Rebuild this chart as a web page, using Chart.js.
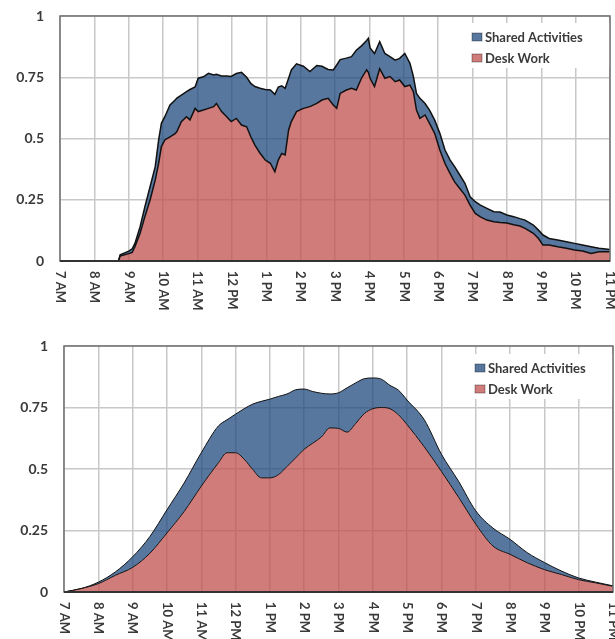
<!DOCTYPE html>
<html>
<head>
<meta charset="utf-8">
<script src="https://cdn.jsdelivr.net/npm/chart.js@4.4.1/dist/chart.umd.min.js"></script>
<style>
  html, body { margin: 0; padding: 0; background: #fff; }
  #wrap { position: relative; width: 615px; height: 639px; overflow: hidden; }
  canvas { position: absolute; left: 0; }
</style>
</head>
<body>
<div id="wrap">
  <canvas id="raw-chart" width="615" height="320" style="top:0"></canvas>
  <canvas id="smooth-chart" width="615" height="319" style="top:320px"></canvas>
</div>
<script>
// hour ticks along the x axis (7 AM .. 11 PM)
var hourLabels = ['7 AM', '8 AM', '9 AM', '10 AM', '11 AM', '12 PM', '1 PM', '2 PM', '3 PM',
                  '4 PM', '5 PM', '6 PM', '7 PM', '8 PM', '9 PM', '10 PM', '11 PM'];
var yTickValues = [0, 0.25, 0.5, 0.75, 1];
var yTickLabels = ['0', '0.25', '0.5', '0.75', '1'];
var seriesNames = ['Shared Activities', 'Desk Work'];

// measured occupancy, time in hours of the day
var rawTimes = [7, 8, 8.7, 8.75, 9, 9.1, 9.18, 9.33, 9.47, 9.62, 9.77, 9.87, 9.95, 10.05, 10.2,
  10.35, 10.4, 10.53, 10.68, 10.78, 10.93, 11.02, 11.17, 11.32, 11.47, 11.55, 11.7, 11.85, 11.98,
  12.13, 12.28, 12.43, 12.55, 12.67, 12.82, 12.97, 13.12, 13.25, 13.35, 13.45, 13.55, 13.65, 13.73,
  13.88, 14.08, 14.27, 14.47, 14.62, 14.8, 14.95, 15.05, 15.15, 15.33, 15.48, 15.62, 15.77, 15.92,
  15.97, 16.02, 16.15, 16.3, 16.45, 16.6, 16.75, 16.88, 17.03, 17.18, 17.28, 17.37, 17.47, 17.62,
  17.75, 17.9, 18.05, 18.2, 18.35, 18.48, 18.63, 18.78, 18.93, 19.08, 19.23, 19.42, 19.62, 19.8,
  20, 20.2, 20.38, 20.53, 20.77, 20.92, 21.05, 21.23, 21.48, 21.73, 21.97, 22.2, 22.45, 22.68, 23];
var rawDesk = [0, 0, 0, 0.02, 0.03, 0.035, 0.058, 0.113, 0.181, 0.249, 0.33, 0.399, 0.467, 0.494, 0.507,
  0.52, 0.528, 0.569, 0.589, 0.576, 0.623, 0.61, 0.616, 0.623, 0.63, 0.643, 0.61, 0.589, 0.569,
  0.582, 0.555, 0.548, 0.507, 0.473, 0.44, 0.412, 0.399, 0.364, 0.412, 0.439, 0.433, 0.535, 0.569,
  0.61, 0.623, 0.63, 0.643, 0.657, 0.664, 0.637, 0.623, 0.684, 0.698, 0.705, 0.698, 0.746, 0.78,
  0.77, 0.746, 0.712, 0.785, 0.746, 0.753, 0.732, 0.739, 0.712, 0.718, 0.691, 0.616, 0.582, 0.596,
  0.562, 0.521, 0.453, 0.398, 0.357, 0.323, 0.296, 0.269, 0.228, 0.194, 0.18, 0.167, 0.16, 0.157,
  0.155, 0.148, 0.143, 0.133, 0.113, 0.092, 0.065, 0.065, 0.058, 0.052, 0.045, 0.041, 0.031, 0.038, 0.038];
var rawShared = [0, 0, 0, 0.005, 0.01, 0.015, 0.014, 0.027, 0.041, 0.054, 0.055, 0.095, 0.095, 0.095, 0.13,
  0.137, 0.137, 0.108, 0.102, 0.124, 0.087, 0.136, 0.136, 0.143, 0.129, 0.119, 0.145, 0.166, 0.184,
  0.183, 0.215, 0.202, 0.218, 0.239, 0.265, 0.288, 0.299, 0.316, 0.298, 0.276, 0.272, 0.211, 0.211,
  0.195, 0.172, 0.143, 0.155, 0.138, 0.118, 0.143, 0.177, 0.138, 0.13, 0.129, 0.162, 0.132, 0.12,
  0.139, 0.124, 0.135, 0.11, 0.101, 0.081, 0.088, 0.088, 0.135, 0.089, 0.062, 0.068, 0.082, 0.047,
  0.054, 0.054, 0.068, 0.055, 0.055, 0.062, 0.055, 0.048, 0.034, 0.048, 0.048, 0.048, 0.041, 0.043,
  0.033, 0.033, 0.03, 0.034, 0.034, 0.034, 0.041, 0.027, 0.028, 0.027, 0.027, 0.024, 0.027, 0.014, 0.009];

// fitted (smoothed) occupancy
var smoothTimes = [7, 7.5, 8, 8.5, 9, 9.5, 10, 10.5, 11, 11.5, 11.75, 12, 12.25, 12.5, 12.75, 13,
  13.25, 13.5, 13.75, 14, 14.25, 14.5, 14.75, 15, 15.25, 15.5, 15.75, 16, 16.25, 16.5, 16.75, 17,
  17.5, 18, 18.5, 19, 19.5, 20, 20.5, 21, 21.5, 22, 22.5, 23];
var smoothDesk = [0, 0.014, 0.034, 0.068, 0.1, 0.157, 0.24, 0.327, 0.43, 0.525, 0.566, 0.566, 0.54,
  0.498, 0.464, 0.464, 0.477, 0.51, 0.545, 0.58, 0.605, 0.63, 0.667, 0.665, 0.65, 0.685, 0.725,
  0.745, 0.75, 0.745, 0.72, 0.68, 0.59, 0.49, 0.385, 0.276, 0.187, 0.153, 0.119, 0.091, 0.071,
  0.05, 0.037, 0.023];
var smoothShared = [0, 0, 0.006, 0.014, 0.043, 0.068, 0.094, 0.116, 0.136, 0.15, 0.134, 0.157, 0.205,
  0.266, 0.311, 0.32, 0.318, 0.295, 0.277, 0.245, 0.21, 0.178, 0.138, 0.145, 0.18, 0.165, 0.142,
  0.125, 0.115, 0.095, 0.1, 0.1, 0.11, 0.07, 0.065, 0.054, 0.073, 0.061, 0.041, 0.029, 0.014,
  0.007, 0.003, 0.002];

var sharedFill = 'rgba(31, 73, 125, 0.75)';
var deskFill = 'rgba(192, 80, 77, 0.75)';
var textColor = '#3a3a3a';
var fontFamily = 'Lato, "Open Sans", sans-serif';

// frame, in-plot legend and downward-reading hour labels
function decorations(legendTop) {
  return {
    id: 'decorations',
    beforeDatasetsDraw: function (chart) {
      var a = chart.chartArea, c = chart.ctx;
      c.save();
      c.fillStyle = '#fff';
      c.fillRect(a.right - 142, a.top + legendTop, 142, 45);
      c.restore();
    },
    afterDraw: function (chart) {
      var a = chart.chartArea, c = chart.ctx;
      var xs = chart.scales.x;
      c.save();
      c.strokeStyle = '#707070';
      c.lineWidth = 1.5;
      c.strokeRect(a.left, a.top, a.right - a.left, a.bottom - a.top);
      c.strokeStyle = '#333';
      c.lineWidth = 2;
      c.beginPath();
      c.moveTo(a.left, a.bottom);
      c.lineTo(a.right, a.bottom);
      c.stroke();

      // legend
      var colors = [sharedFill, deskFill];
      c.font = 'bold 13px ' + fontFamily;
      c.textBaseline = 'middle';
      c.textAlign = 'left';
      for (var i = 0; i < seriesNames.length; i++) {
        var y = a.top + legendTop + 14 + i * 21;
        var x = a.right - 138;
        c.fillStyle = colors[i];
        c.fillRect(x, y - 4, 10, 8);
        c.strokeStyle = 'rgba(0,0,0,0.35)';
        c.lineWidth = 1;
        c.strokeRect(x, y - 4, 10, 8);
        c.fillStyle = textColor;
        c.fillText(seriesNames[i], x + 13, y + 1);
      }

      // hour labels, rotated to read top-down
      c.font = 'bold 13px ' + fontFamily;
      for (var h = 0; h < hourLabels.length; h++) {
        var px = xs.getPixelForValue(7 + h);
        c.save();
        c.translate(px, a.bottom + 10);
        c.rotate(Math.PI / 2);
        c.fillText(hourLabels[h], 0, 0);
        c.restore();
      }
      c.restore();
    }
  };
}

function drawChart(canvasId, times, desk, shared, opts) {
  var ctx = document.getElementById(canvasId);
  return new Chart(ctx, {
    type: 'line',
    data: {
      labels: times,
      datasets: [{
        label: seriesNames[1],
        data: desk,
        fill: 'origin',
        backgroundColor: deskFill,
        borderColor: '#111',
        borderWidth: opts.lineWidth,
        cubicInterpolationMode: opts.smooth ? 'monotone' : 'default',
        tension: 0
      }, {
        label: seriesNames[0],
        data: shared,
        fill: '-1',
        backgroundColor: sharedFill,
        borderColor: '#111',
        borderWidth: opts.lineWidth,
        cubicInterpolationMode: opts.smooth ? 'monotone' : 'default',
        tension: 0
      }]
    },
    options: {
      responsive: false,
      animation: false,
      layout: { padding: { top: opts.top, right: opts.right, left: 0, bottom: 0 } },
      elements: { point: { radius: 0 } },
      scales: {
        x: {
          type: 'linear',
          min: 7,
          max: 23,
          ticks: { display: false, stepSize: 1 },
          grid: { color: '#c8c8c8', lineWidth: 1.5, drawTicks: false },
          border: { display: false },
          afterFit: function (scale) { scale.height = opts.xHeight; }
        },
        y: {
          stacked: true,
          min: 0,
          max: 1,
          afterBuildTicks: function (scale) {
            scale.ticks = yTickValues.map(function (v) { return { value: v }; });
          },
          ticks: {
            padding: 16,
            color: textColor,
            font: { family: fontFamily, size: 14, weight: 'bold' },
            callback: function (value) { return yTickLabels[yTickValues.indexOf(value)]; }
          },
          grid: { color: '#c8c8c8', lineWidth: 1.5, drawTicks: false },
          border: { display: false },
          afterFit: function (scale) {
            scale.width = opts.yWidth;
            // plot edges are set by the layout padding alone
            scale.paddingTop = 0;
            scale.paddingBottom = 0;
          }
        }
      },
      plugins: {
        legend: { display: false },
        tooltip: { enabled: false }
      }
    },
    plugins: [decorations(opts.legendTop)]
  });
}

drawChart('raw-chart', rawTimes, rawDesk, rawShared,
  { top: 16, right: 5, xHeight: 59, yWidth: 60, legendTop: 7, lineWidth: 1.5, smooth: false });
drawChart('smooth-chart', smoothTimes, smoothDesk, smoothShared,
  { top: 26, right: 2, xHeight: 47, yWidth: 64, legendTop: 8, lineWidth: 1, smooth: true });
</script>
</body>
</html>
